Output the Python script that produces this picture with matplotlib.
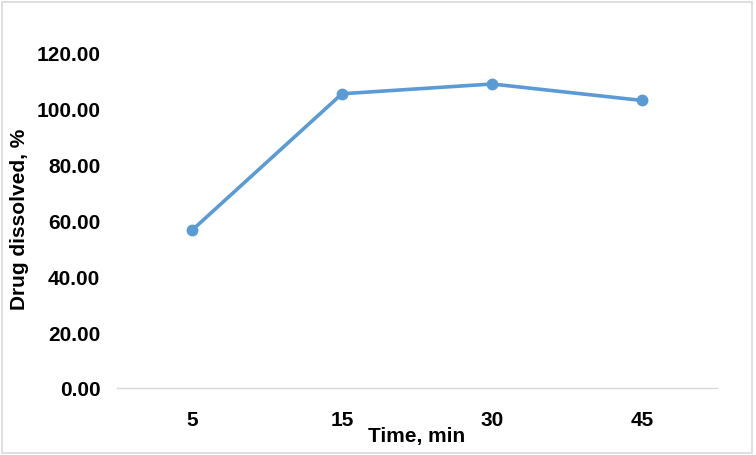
import matplotlib
matplotlib.use("Agg")
import matplotlib.pyplot as plt
from matplotlib.patches import Rectangle

# data
times = ["5", "15", "30", "45"]
dissolved = [56.5, 105.4, 108.9, 103.0]
y_ticks = [0, 20, 40, 60, 80, 100, 120]

plt.rcParams['font.family'] = ['Liberation Sans', 'DejaVu Sans']

fig = plt.figure(figsize=(7.56, 4.56), dpi=100)
ax = fig.add_axes([117 / 756, 1 - 389 / 456, 600 / 756, 335 / 456])

x = list(range(len(times)))
ax.plot(x, dissolved, color='#5B9BD5', linewidth=2.6, marker='o',
        markersize=7.5, solid_capstyle='round')

ax.set_xlim(-0.5, len(times) - 0.5)
ax.set_ylim(0, 120)
ax.set_yticks(y_ticks)
ax.set_yticklabels(['%.2f' % v for v in y_ticks], fontsize=15, fontweight='bold')
ax.set_xticks(x)
ax.set_xticklabels(times, fontsize=15, fontweight='bold')
ax.tick_params(length=0, pad=12)
ax.tick_params(axis='x', pad=16)

for s in ['top', 'right', 'left']:
    ax.spines[s].set_visible(False)
ax.spines['bottom'].set_color('#D9D9D9')
ax.spines['bottom'].set_linewidth(1)

ax.set_xlabel('Time, min', fontsize=15, fontweight='bold', labelpad=-2)
fig.text(20 / 756, 1 - 219 / 456, 'Drug dissolved, %', fontsize=15, fontweight='bold',
         rotation=90, ha='center', va='center')

fig.patches.append(Rectangle((0.002, 0.004), 0.993, 0.99, transform=fig.transFigure,
                             fill=False, edgecolor='#D9D9D9', linewidth=1.2))

fig.savefig('out.png', dpi=100)
